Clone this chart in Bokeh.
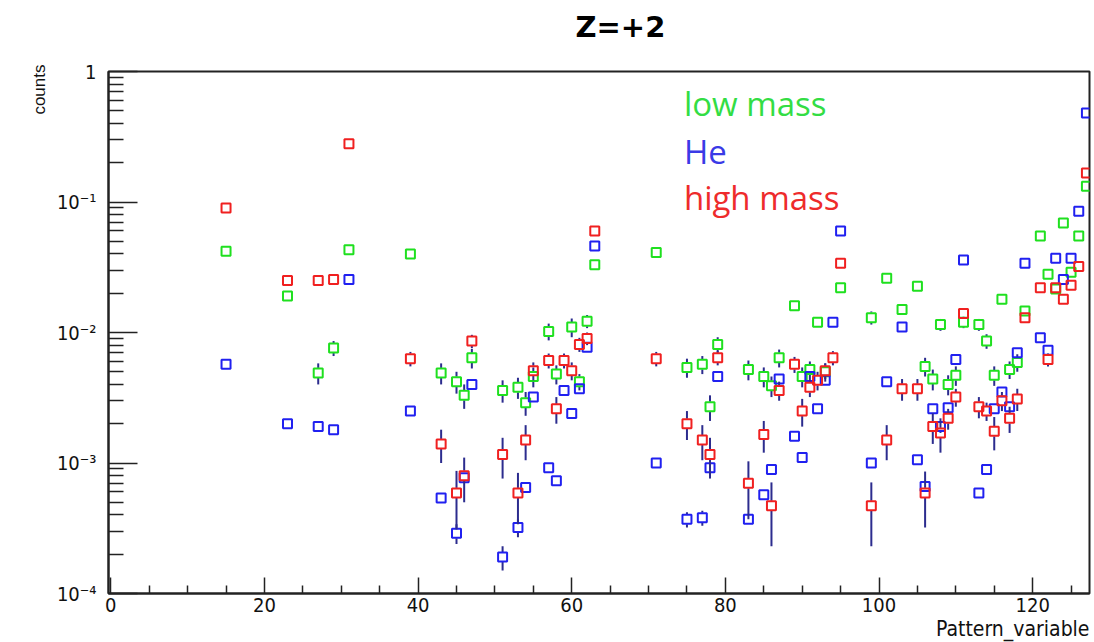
import math
from bokeh.plotting import figure
from bokeh.models import Range1d, FixedTicker, Label, CustomJSTickFormatter, Title
from bokeh.embed import file_html
from bokeh.resources import INLINE

# ---------------- data ----------------
low_x = [15, 23, 27, 29, 31, 39, 43, 45, 46, 47, 51, 53, 54, 55, 57, 58, 60, 61, 62, 63,
         71, 75, 77, 78, 79, 83, 85, 86, 87, 89, 90, 91, 92, 93, 95, 99, 101, 103, 105, 106,
         107, 108, 109, 110, 111, 113, 114, 115, 116, 117, 118, 119, 121, 122, 123, 124, 125, 126, 127]
low_y = [0.042, 0.019, 0.0049, 0.0076, 0.043, 0.040, 0.0049, 0.0042, 0.0033, 0.0064,
         0.0036, 0.0038, 0.0029, 0.0046, 0.0102, 0.0048, 0.011, 0.0042, 0.0122, 0.033,
         0.041, 0.0054, 0.0057, 0.0027, 0.0081, 0.0052, 0.0046, 0.0039, 0.0064, 0.016,
         0.0046, 0.0052, 0.012, 0.0050, 0.022, 0.013, 0.026, 0.015, 0.0226, 0.0055,
         0.0044, 0.0115, 0.0040, 0.0047, 0.012, 0.0115, 0.0086, 0.0047, 0.018, 0.0052,
         0.0059, 0.0146, 0.055, 0.028, 0.0215, 0.069, 0.029, 0.055, 0.132]
low_e = [0.0012, 0.0008, 0.0009, 0.0010, 0.0012, 0.0012, 0.0009, 0.0008, 0.0007, 0.0011,
         0.0007, 0.0007, 0.0006, 0.0008, 0.0015, 0.0008, 0.0018, 0.0006, 0.0014, 0.0015,
         0.0015, 0.0009, 0.0009, 0.0006, 0.0011, 0.0009, 0.0008, 0.0007, 0.0010, 0.0012,
         0.0008, 0.0008, 0.0010, 0.0008, 0.0012, 0.0015, 0.0015, 0.0012, 0.0015, 0.0009,
         0.0008, 0.0012, 0.0007, 0.0008, 0.0012, 0.0012, 0.0011, 0.0008, 0.0012, 0.0008,
         0.0009, 0.0012, 0.0020, 0.0015, 0.0015, 0.0020, 0.0015, 0.0020, 0.0030]

he_x = [15, 23, 27, 29, 31, 39, 43, 45, 46, 47, 51, 53, 54, 55, 57, 58, 59, 60, 61, 62, 63,
        71, 75, 77, 78, 79, 83, 85, 86, 87, 89, 90, 91, 92, 93, 94, 95, 99, 101, 103, 105,
        106, 107, 108, 109, 110, 111, 113, 114, 115, 116, 117, 118, 119, 121, 122, 123, 124,
        125, 126, 127]
he_y = [0.0057, 0.0020, 0.0019, 0.0018, 0.0255, 0.0025, 0.00054, 0.00029, 0.00077, 0.0040,
        0.00019, 0.00032, 0.00065, 0.0032, 0.00092, 0.00073, 0.0036, 0.0024, 0.0037, 0.0077,
        0.046, 0.0010, 0.00037, 0.00038, 0.00092, 0.0046, 0.00037, 0.00057, 0.00089, 0.0044,
        0.0016, 0.0011, 0.0046, 0.0026, 0.0043, 0.012, 0.060, 0.0010, 0.0042, 0.011,
        0.00106, 0.00066, 0.0026, 0.0019, 0.00265, 0.0062, 0.036, 0.00059, 0.00089, 0.0026,
        0.0035, 0.0027, 0.0070, 0.034, 0.0091, 0.0073, 0.037, 0.0255, 0.037, 0.085, 0.48]
he_e = [0.0002, 0.0001, 0.0001, 0.0001, 0.0005, 0.0001, 0.00003, 0.00005, 0.00005, 0.0002,
        0.00004, 0.00005, 0.00004, 0.0002, 0.00005, 0.00005, 0.0002, 0.0001, 0.0003, 0.0005,
        0.0010, 0.00005, 0.00005, 0.00005, 0.00006, 0.0002, 0.00003, 0.00004, 0.00005, 0.0003,
        0.0001, 0.0001, 0.0003, 0.0002, 0.0003, 0.0008, 0.0010, 0.00005, 0.0002, 0.0005,
        0.00005, 0.00005, 0.0002, 0.0002, 0.0002, 0.0003, 0.0010, 0.00003, 0.00005, 0.0002,
        0.0003, 0.0002, 0.0004, 0.0015, 0.0006, 0.0005, 0.0010, 0.0010, 0.0010, 0.0020, 0.0060]

high_x = [15, 23, 27, 29, 31, 39, 43, 45, 46, 47, 51, 53, 54, 55, 57, 58, 59, 60, 61, 62, 63,
          71, 75, 77, 78, 79, 83, 85, 86, 87, 89, 90, 91, 92, 93, 94, 95, 99, 101, 103, 105,
          106, 107, 108, 109, 110, 111, 113, 114, 115, 116, 117, 118, 119, 121, 122, 123, 124,
          125, 126, 127]
high_y = [0.090, 0.025, 0.025, 0.0255, 0.28, 0.0063, 0.0014, 0.00059, 0.0008, 0.0086,
          0.00116, 0.00059, 0.0015, 0.0051, 0.0061, 0.0026, 0.0061, 0.0051, 0.0081, 0.0090,
          0.060, 0.0063, 0.0020, 0.0015, 0.00116, 0.0064, 0.0007, 0.00165, 0.00047, 0.0036,
          0.0057, 0.0025, 0.0038, 0.0043, 0.0051, 0.0064, 0.034, 0.00047, 0.0015, 0.0037,
          0.0037, 0.00059, 0.0019, 0.0017, 0.0022, 0.0032, 0.014, 0.0027, 0.0025, 0.00175,
          0.0030, 0.0022, 0.0031, 0.013, 0.022, 0.0062, 0.022, 0.018, 0.023, 0.032, 0.167]
high_e = [0.002, 0.001, 0.001, 0.001, 0.004, 0.0008, 0.0004, 0.00028, 0.0003, 0.001,
          0.0004, 0.00025, 0.00045, 0.0008, 0.0008, 0.0006, 0.0008, 0.0008, 0.001, 0.001,
          0.002, 0.0008, 0.0005, 0.00045, 0.0004, 0.0008, 0.00033, 0.00045, 0.00024, 0.0006,
          0.0008, 0.0006, 0.0006, 0.0007, 0.0007, 0.0008, 0.0015, 0.00024, 0.00045, 0.0007,
          0.0007, 0.00027, 0.0005, 0.0005, 0.0004, 0.0005, 0.001, 0.0005, 0.0004, 0.0005,
          0.0005, 0.0005, 0.0006, 0.001, 0.001, 0.0007, 0.001, 0.001, 0.001, 0.0012, 0.003]

series_names = ["low mass", "He", "high mass"]
x_ticks = [0, 20, 40, 60, 80, 100, 120]

# ---------------- styling ----------------
W, H = 1094, 642
BL, BR, BT, BB = 108, 5, 71, 49
frame_h = H - BT - BB
YMIN, YMAX = 1e-4, 1.0
px_per_dec = frame_h / (math.log10(YMAX) - math.log10(YMIN))
MARK = 10
gap = 10 ** ((MARK / 2) / px_per_dec)

GREEN, BLUE, RED = "#1fe01f", "#2020f0", "#f02020"
ERR = "#2c2c8e"
TICK_FONT = "'Liberation Sans Narrow', 'DejaVu Sans Condensed', 'Liberation Sans'"

p = figure(width=W, height=H, x_range=Range1d(-0.3, 127.4), y_range=Range1d(YMIN, YMAX),
           y_axis_type="log", output_backend="svg", toolbar_location=None,
           min_border_left=BL, min_border_right=BR, min_border_top=BT, min_border_bottom=BB)
p.xgrid.visible = False
p.ygrid.visible = False
p.outline_line_color = "#222222"
p.outline_line_width = 2
p.background_fill_color = "white"
p.border_fill_color = "white"
p.title.visible = False

# spacer between frame and title, then the title itself (outermost)
p.add_layout(Title(text=" ", text_font_size="20px", standoff=4), "above")
p.add_layout(Title(text="Z=+2", align="left", offset=467, text_font="DejaVu Sans",
                   text_font_style="bold", text_font_size="29px", text_color="black",
                   standoff=0), "above")


def add_series(xs, ys, es, color):
    ux0, uy0, ux1, uy1 = [], [], [], []
    for x, y, e in zip(xs, ys, es):
        top = y * gap
        bot = y / gap
        if y + e > top:
            ux0.append(x); uy0.append(top); ux1.append(x); uy1.append(y + e)
        lo = max(y - e, 1e-6)
        if lo < bot:
            ux0.append(x); uy0.append(lo); ux1.append(x); uy1.append(bot)
    p.segment(ux0, uy0, ux1, uy1, line_color=ERR, line_width=2)
    p.scatter(xs, ys, marker="square", size=MARK - 1, fill_color=None,
              line_color=color, line_width=2)


add_series(low_x, low_y, low_e, GREEN)
add_series(he_x, he_y, he_e, BLUE)
add_series(high_x, high_y, high_e, RED)

# ---------------- axes ----------------
minor_x = [v for v in range(5, 128, 5) if v % 20 != 0]
p.xaxis.ticker = FixedTicker(ticks=x_ticks, minor_ticks=minor_x)
y_major = [10.0 ** n for n in range(-4, 1)]
y_minor = [k * 10.0 ** n for n in range(-4, 0) for k in range(2, 10)]
p.yaxis.ticker = FixedTicker(ticks=y_major, minor_ticks=y_minor)
p.yaxis.formatter = CustomJSTickFormatter(code="""
    const e = Math.round(Math.log10(tick));
    if (e === 0) return "1";
    const sup = {"-":"\u207b","0":"\u2070","1":"\u00b9","2":"\u00b2","3":"\u00b3","4":"\u2074"};
    return "10" + String(e).split("").map(c => sup[c]).join("");
""")

for ax in (p.xaxis[0], p.yaxis[0]):
    ax.axis_line_color = "#222222"
    ax.axis_line_width = 2
    ax.major_tick_line_color = "#222222"
    ax.minor_tick_line_color = "#222222"
    ax.major_tick_line_width = 1.5
    ax.minor_tick_line_width = 1.5
    ax.major_tick_out = 0
    ax.minor_tick_out = 0
    ax.major_label_text_font = TICK_FONT
    ax.major_label_text_font_size = "20px"
    ax.major_label_text_color = "#111111"

p.xaxis.major_tick_in = 16
p.xaxis.minor_tick_in = 8
p.xaxis.major_label_standoff = 4
p.yaxis.major_tick_in = 29
p.yaxis.minor_tick_in = 15
p.yaxis.major_label_standoff = 12

# ---------------- axis titles (ROOT style, at the axis ends) ----------------
p.add_layout(Title(text="counts", align="right", text_font="Liberation Sans", text_font_size="17px",
                   text_font_style="normal", text_color="#111111", standoff=10, offset=-7), "left")
p.add_layout(Title(text="Pattern_variable", align="right", text_font=TICK_FONT,
                   text_font_size="21px", text_font_style="normal", text_color="#111111",
                   standoff=0, offset=0), "below")

# ---------------- legend texts ----------------
leg_y = [0.568, 0.2437, 0.1083]
for name, yy, col in zip(series_names, leg_y, ["#33dd44", "#3a3ae6", "#ee2b2b"]):
    p.add_layout(Label(x=74.6, y=yy, text=name, text_align="left", text_baseline="alphabetic",
                       text_font="Open Sans", text_font_size="33px", text_color=col))

open("out.html", "w").write(file_html(p, INLINE))
